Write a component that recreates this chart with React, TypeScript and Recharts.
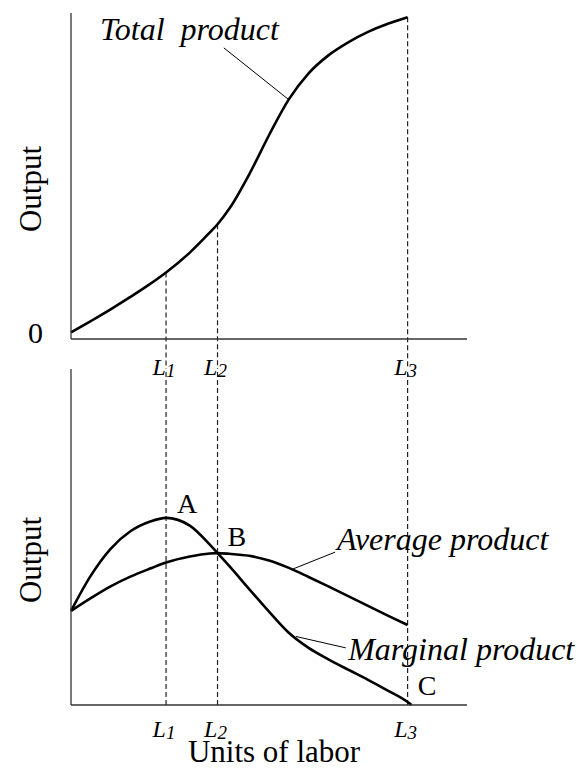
import { Line, LineChart, ReferenceDot, ReferenceLine, XAxis, YAxis } from "recharts";

const SERIF = '"Liberation Serif", "Times New Roman", serif';

// units of labor (x) and the three curves
const labor = [0, 0.5, 1, 1.5, 2, 2.4, 3, 3.5, 3.7, 4, 4.5, 5, 5.5, 6, 6.5, 7, 7.5, 8, 8.5, 8.6];
const totalProduct = [2, 5.5, 9.1, 12.9, 16.9, 20.4, 26.5, 32.6, 35.2, 40, 50.5, 62.5, 73.5, 81.5, 87, 91, 94.2, 96.7, 98.7, null];
const averageProduct = [28, 31.8, 35.3, 38.2, 40.6, 42.4, 44.2, 45.1, 45.2, 45.0, 44.4, 43.0, 40.8, 38.1, 35.3, 32.4, 29.5, 26.6, 23.8, null];
const marginalProduct = [28, 38.5, 46.5, 51.7, 54.6, 55.7, 53.4, 47.8, 45.2, 41.3, 34.5, 27.8, 21.5, 17.0, 13.6, 10.5, 7.5, 4.3, 0.9, 0];

// L1, L2, L3 marks on the labor axis
const laborTicks = [2.4, 3.7, 8.5];
const tickSubs = ["1", "2", "3"];

const rows = labor.map((l, i) => ({
  labor: l,
  tp: totalProduct[i],
  ap: averageProduct[i],
  mp: marginalProduct[i],
}));
const topRows = rows.filter((r) => r.tp != null);
const tpAt = (l: number) => totalProduct[labor.indexOf(l)] as number;

// top chart dashes run past its axis down to where the lower chart begins
const TOP_DROP = -9.2;

const AXIS = "#333";

function LTick({ x, y, payload, off }: any) {
  const i = laborTicks.indexOf(payload.value);
  return (
    <text x={x - 2} y={y + off} textAnchor="middle" fontFamily={SERIF} fontStyle="italic" fontSize={24} fill="#000">
      L
      <tspan fontSize={19} dy={2}>
        {tickSubs[i]}
      </tspan>
    </text>
  );
}

function note(text: string, size: number, anchor: "start" | "middle", italic: boolean) {
  return (p: any) => (
    <text
      x={p.cx}
      y={p.cy}
      textAnchor={anchor}
      fontFamily={SERIF}
      fontSize={size}
      fontStyle={italic ? "italic" : "normal"}
      fill="#000"
      style={{ whiteSpace: "pre" }}
    >
      {text}
    </text>
  );
}

function OutputTitle({ viewBox, shift }: any) {
  const cx = viewBox.x + 30;
  const cy = viewBox.y + viewBox.height / 2 + shift;
  return (
    <text
      x={cx}
      y={cy}
      transform={`rotate(-90 ${cx} ${cy})`}
      textAnchor="middle"
      dominantBaseline="central"
      fontFamily={SERIF}
      fontSize={31}
      fill="#000"
    >
      Output
    </text>
  );
}

function LaborTitle({ viewBox }: any) {
  return (
    <text
      x={viewBox.x + viewBox.width / 2 + 5}
      y={viewBox.y + 57}
      textAnchor="middle"
      fontFamily={SERIF}
      fontSize={31}
      fill="#000"
    >
      Units of labor
    </text>
  );
}

const dash = { stroke: "#222", strokeWidth: 1.2, strokeDasharray: "5 3" };
const leader = { stroke: "#000", strokeWidth: 1 };

export default function App() {
  return (
    <div style={{ position: "absolute", left: 0, top: 0, width: 580, height: 769, background: "#fff" }}>
      <div style={{ position: "absolute", left: 0, top: 0 }}>
        <LineChart width={580} height={392} data={topRows} margin={{ top: 13, right: 113, bottom: 0, left: 0 }}>
          <XAxis
            type="number"
            dataKey="labor"
            domain={[0, 10]}
            ticks={laborTicks}
            tickLine={false}
            tickSize={0}
            height={53}
            stroke={AXIS}
            strokeWidth={1.5}
            tick={(p: any) => <LTick {...p} off={34} />}
          />
          <YAxis
            type="number"
            domain={[0, 100]}
            ticks={[0]}
            width={71}
            tickLine={false}
            tickSize={0}
            tickMargin={28}
            stroke={AXIS}
            strokeWidth={1.3}
            tick={(p: any) => (
              <text x={p.x} y={p.y + 4} textAnchor="end" fontFamily={SERIF} fontSize={30} fill="#000">
                {p.payload.value}
              </text>
            )}
            label={{ content: (p: any) => <OutputTitle {...p} shift={13} /> }}
          />
          {laborTicks.map((l) => (
            <ReferenceLine
              key={l}
              segment={[
                { x: l, y: tpAt(l) },
                { x: l, y: TOP_DROP },
              ]}
              ifOverflow="visible"
              {...dash}
            />
          ))}
          <ReferenceLine
            segment={[
              { x: 3.86, y: 89.3 },
              { x: 5.48, y: 73.6 },
            ]}
            {...leader}
          />
          <ReferenceDot x={0.73} y={91.7} r={1} ifOverflow="visible" shape={note("Total  product", 32, "start", true)} />
          <Line type="monotone" dataKey="tp" stroke="#000" strokeWidth={2.6} dot={false} isAnimationActive={false} />
        </LineChart>
      </div>
      <div style={{ position: "absolute", left: 0, top: 369 }}>
        <LineChart width={580} height={400} data={rows} margin={{ top: 0, right: 113, bottom: 0, left: 0 }}>
          <XAxis
            type="number"
            dataKey="labor"
            domain={[0, 10]}
            ticks={laborTicks}
            tickLine={false}
            tickSize={0}
            height={64}
            stroke={AXIS}
            strokeWidth={1.5}
            tick={(p: any) => <LTick {...p} off={30} />}
            label={{ content: (p: any) => <LaborTitle {...p} /> }}
          />
          <YAxis
            type="number"
            domain={[0, 100]}
            width={71}
            tick={false}
            tickLine={false}
            stroke={AXIS}
            strokeWidth={1.3}
            label={{ content: (p: any) => <OutputTitle {...p} shift={23} /> }}
          />
          {laborTicks.map((l) => (
            <ReferenceLine key={l} x={l} {...dash} />
          ))}
          <ReferenceLine
            segment={[
              { x: 5.61, y: 40.5 },
              { x: 6.67, y: 45.5 },
            ]}
            {...leader}
          />
          <ReferenceLine
            segment={[
              { x: 5.68, y: 20.4 },
              { x: 6.94, y: 17.0 },
            ]}
            {...leader}
          />
          <ReferenceDot x={2.93} y={57.1} r={1} ifOverflow="visible" shape={note("A", 28, "middle", false)} />
          <ReferenceDot x={4.19} y={47.3} r={1} ifOverflow="visible" shape={note("B", 28, "middle", false)} />
          <ReferenceDot x={8.99} y={3.0} r={1} ifOverflow="visible" shape={note("C", 28, "middle", false)} />
          <ReferenceDot x={6.72} y={46.1} r={1} ifOverflow="visible" shape={note("Average product", 32, "start", true)} />
          <ReferenceDot x={7.0} y={13.4} r={1} ifOverflow="visible" shape={note("Marginal product", 32, "start", true)} />
          <Line type="monotone" dataKey="ap" stroke="#000" strokeWidth={2.6} dot={false} isAnimationActive={false} />
          <Line type="monotone" dataKey="mp" stroke="#000" strokeWidth={2.6} dot={false} isAnimationActive={false} />
        </LineChart>
      </div>
    </div>
  );
}
